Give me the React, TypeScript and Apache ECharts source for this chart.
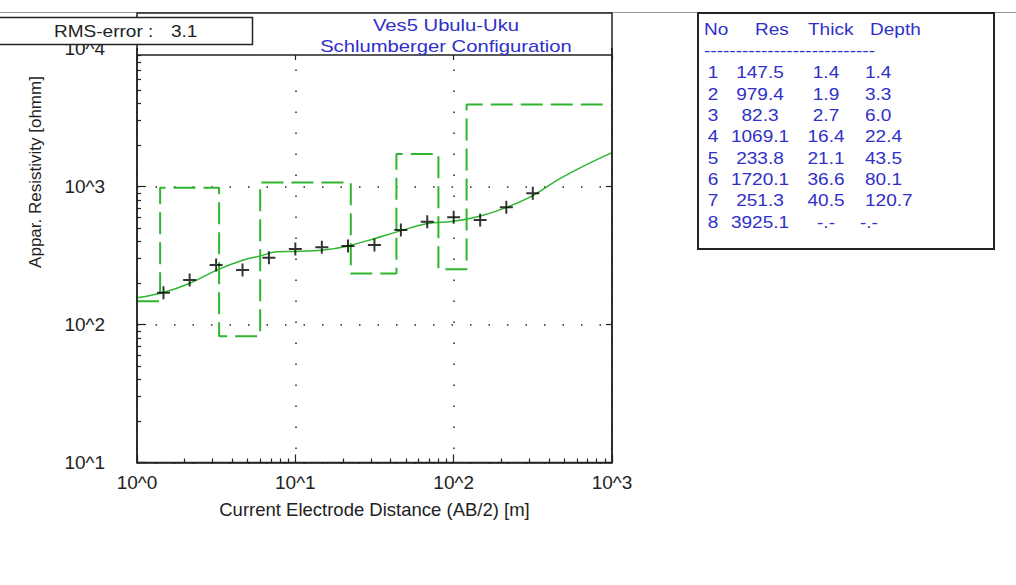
import React, { useEffect, useRef } from "react";
import * as echarts from "echarts";

// Observed field data (AB/2 in m, apparent resistivity in ohmm)
const abHalf = [1.47, 2.15, 3.16, 4.64, 6.81, 10, 14.7, 21.5, 31.6, 46.4, 68.1, 100, 147, 215, 316];
const apparentRes = [170, 210, 270, 248, 305, 352, 363, 370, 377, 484, 556, 598, 572, 707, 893];

// Calculated model response curve
const curveAb = [1, 1.45, 2.16, 3.19, 4.7, 5.93, 7.64, 10.1, 14.7, 21.6, 31.1, 46.6, 68.3, 100, 148, 216, 316, 460, 680, 1000];
const curveRes = [156, 170, 199, 248, 293, 313, 336, 338, 345, 371, 417, 479, 540, 560, 612, 706, 858, 1125, 1429, 1760];

// Layer model
const layerNo = [1, 2, 3, 4, 5, 6, 7, 8];
const layerRes = [147.5, 979.4, 82.3, 1069.1, 233.8, 1720.1, 251.3, 3925.1];
const layerThick: (number | null)[] = [1.4, 1.9, 2.7, 16.4, 21.1, 36.6, 40.5, null];
const layerDepth: (number | null)[] = [1.4, 3.3, 6.0, 22.4, 43.5, 80.1, 120.7, null];

const tableHeader = ["No", "Res", "Thick", "Depth"];
const xTickLabels = ["10^0", "10^1", "10^2", "10^3"];
const yTickLabels = ["10^0", "10^1", "10^2", "10^3", "10^4"];
const rmsError = 3.1;
const titleLines = ["Ves5 Ubulu-Uku", "Schlumberger Configuration"];
const xAxisName = "Current Electrode Distance (AB/2) [m]";
const yAxisName = "Appar. Resistivity [ohmm]";

const X_MIN = 1, X_MAX = 1000, Y_MIN = 10, Y_MAX = 10000;

const GREEN = "#2fb52f";
const BLUE = "#3030c8";
const DARK = "#222222";
const FONT = "'Liberation Sans', Arial, sans-serif";
const SX = 1.12;

const minorValues = (lo: number, hi: number) => {
  const out: number[] = [];
  for (let d = lo; d < hi; d *= 10) for (let k = 2; k <= 9; k++) out.push(d * k);
  return out;
};
const majorValues = (lo: number, hi: number) => {
  const out: number[] = [];
  for (let d = lo; d <= hi; d *= 10) out.push(d);
  return out;
};
const fmt = (v: number | null) => (v == null ? "-.-" : v.toFixed(1));

export default function App() {
  const ref = useRef<HTMLDivElement>(null);
  useEffect(() => {
    if (!ref.current) return;
    const chart = echarts.init(ref.current, undefined, { renderer: "svg" });

    const stepPts: number[][] = [];
    let prev = X_MIN;
    layerRes.forEach((r, i) => {
      const end = layerDepth[i] ?? X_MAX;
      stepPts.push([prev, r], [end, r]);
      prev = end;
    });

    const gridLeft = 137, gridRight = 612, gridTop = 48.5, gridBottom = 462.5;
    const tStyle = { fontFamily: FONT, fontSize: 17 };

    const tableEls: any[] = [];
    const hdrX = [704, 755, 808, 870];
    tableHeader.forEach((h, i) =>
      tableEls.push({ type: "text", x: hdrX[i], y: 29, scaleX: SX, z: 50,
        style: { ...tStyle, text: h, fill: BLUE, textAlign: "left", textVerticalAlign: "middle" } })
    );
    tableEls.push({ type: "text", x: 704, y: 50, scaleX: SX, z: 50,
      style: { ...tStyle, text: "---------------------------", fill: BLUE, textAlign: "left", textVerticalAlign: "middle" } });
    layerNo.forEach((n, i) => {
      const y = 72.7 + i * 21.33;
      const cells = [
        { t: String(n), x: 713, a: "center" },
        { t: layerRes[i].toFixed(1), x: 760, a: "center" },
        { t: fmt(layerThick[i]), x: 826, a: "center" },
        { t: fmt(layerDepth[i]), x: layerDepth[i] == null ? 860 : 865, a: "left" },
      ];
      cells.forEach((c) =>
        tableEls.push({ type: "text", x: c.x, y, scaleX: SX, z: 50,
          style: { ...tStyle, text: c.t, fill: BLUE, textAlign: c.a, textVerticalAlign: "middle" } })
      );
    });

    const option: any = {
      animation: false,
      backgroundColor: "#ffffff",
      grid: { left: gridLeft, right: 1016 - gridRight, top: gridTop, bottom: 585 - gridBottom, containLabel: false },
      xAxis: [
        {
          type: "log", logBase: 10, min: X_MIN, max: X_MAX, position: "bottom",
          axisLine: { show: true, lineStyle: { color: DARK, width: 1.5 } },
          axisTick: { show: true, inside: true, length: 8, lineStyle: { color: DARK, width: 1.2 } },
          axisLabel: { show: true, margin: 10, color: DARK, fontFamily: FONT, fontSize: 19,
            formatter: (v: number) => xTickLabels[Math.round(Math.log10(v))] },
          splitLine: { show: true, lineStyle: { color: "#222", width: 1.5, type: [1.5, 19.5] } },
          name: xAxisName, nameLocation: "middle", nameGap: 37,
          nameTextStyle: { color: DARK, fontFamily: FONT, fontSize: 18.5 },
        },
        {
          type: "log", logBase: 10, min: X_MIN, max: X_MAX, position: "bottom",
          axisLine: { show: false },
          axisTick: { show: true, inside: true, length: 4, customValues: minorValues(X_MIN, X_MAX), lineStyle: { color: DARK, width: 1.2 } },
          axisLabel: { show: false }, splitLine: { show: false },
        },
        {
          type: "log", logBase: 10, min: X_MIN, max: X_MAX, position: "top", offset: -6.5, z: 40,
          axisLine: { show: true, lineStyle: { color: DARK, width: 1.5 } },
          axisTick: { show: true, inside: true, length: 5, lineStyle: { color: DARK, width: 1.2 } },
          axisLabel: { show: false }, splitLine: { show: false },
        },
      ],
      yAxis: [
        {
          type: "log", logBase: 10, min: Y_MIN, max: Y_MAX, position: "left",
          axisLine: { show: true, lineStyle: { color: DARK, width: 1.5 } },
          axisTick: { show: true, inside: true, length: 9, lineStyle: { color: DARK, width: 1.2 } },
          axisLabel: { show: true, margin: 32, color: DARK, fontFamily: FONT, fontSize: 19,
            formatter: (v: number) => yTickLabels[Math.round(Math.log10(v))] },
          splitLine: { show: true, lineStyle: { color: "#222", width: 1.5, type: [1.5, 17] } },
        },
        {
          type: "log", logBase: 10, min: Y_MIN, max: Y_MAX, position: "left",
          axisLine: { show: false },
          axisTick: { show: true, inside: true, length: 4, customValues: minorValues(Y_MIN, Y_MAX), lineStyle: { color: DARK, width: 1.2 } },
          axisLabel: { show: false }, splitLine: { show: false },
        },
        {
          type: "log", logBase: 10, min: Y_MIN, max: Y_MAX, position: "right",
          axisLine: { show: true, lineStyle: { color: DARK, width: 1.5 } },
          axisTick: { show: true, inside: true, length: 6, customValues: majorValues(Y_MIN, Y_MAX), lineStyle: { color: DARK, width: 1.2 } },
          axisLabel: { show: false }, splitLine: { show: false },
        },
      ],
      series: [
        {
          name: "Model", type: "line", data: stepPts, symbol: "none", z: 3,
          lineStyle: { color: GREEN, width: 2, type: [22, 8] },
        },
        {
          name: "Calculated", type: "line", smooth: 0.3, symbol: "none", z: 4,
          data: curveAb.map((x, i) => [x, curveRes[i]]),
          lineStyle: { color: GREEN, width: 1.5 },
        },
        {
          name: "Observed", type: "scatter", z: 5,
          symbol: "path://M4.25,0H5.75V4.25H10V5.75H5.75V10H4.25V5.75H0V4.25H4.25Z",
          symbolSize: 13,
          itemStyle: { color: "#000" },
          data: abHalf.map((x, i) => [x, apparentRes[i]]),
        },
      ],
      graphic: [
        { type: "line", z: 1, shape: { x1: 0, y1: 12.5, x2: 1016, y2: 12.5 }, style: { stroke: "#999", lineWidth: 1 } },
        { type: "rect", z: 35, shape: { x: gridLeft + 1, y: 13.5, width: gridRight - gridLeft - 2, height: 41 }, style: { fill: "#ffffff" } },
        { type: "rect", z: 36, shape: { x: gridLeft, y: 13, width: gridRight - gridLeft, height: gridBottom - 13 }, style: { fill: "none", stroke: DARK, lineWidth: 1.5 } },
        { type: "rect", z: 36, shape: { x: 698, y: 13, width: 296, height: 236 }, style: { fill: "#ffffff", stroke: DARK, lineWidth: 2 } },
        { type: "rect", z: 45, shape: { x: -2, y: 17.5, width: 254.5, height: 27 }, style: { fill: "#ffffff", stroke: DARK, lineWidth: 1.5 } },
        { type: "text", z: 46, x: 54, y: 31.5, scaleX: SX, style: { ...tStyle, text: "RMS-error :", fill: DARK, textAlign: "left", textVerticalAlign: "middle" } },
        { type: "text", z: 46, x: 171, y: 31.5, scaleX: SX, style: { ...tStyle, text: rmsError.toFixed(1), fill: DARK, textAlign: "left", textVerticalAlign: "middle" } },
        { type: "text", z: 46, x: 446, y: 25, scaleX: 1.19, style: { ...tStyle, text: titleLines[0], fill: BLUE, textAlign: "center", textVerticalAlign: "middle" } },
        { type: "text", z: 46, x: 446, y: 46, scaleX: 1.19, style: { ...tStyle, text: titleLines[1], fill: BLUE, textAlign: "center", textVerticalAlign: "middle" } },
        { type: "text", z: 46, x: 35, y: 172, rotation: Math.PI / 2, style: { ...tStyle, text: yAxisName, fill: DARK, textAlign: "center", textVerticalAlign: "middle" } },
        ...tableEls,
      ],
    };
    chart.setOption(option);
    return () => chart.dispose();
  }, []);

  return (
    <div
      ref={ref}
      style={{ position: "absolute", left: 0, top: 0, width: 1016, height: 585, background: "#fff" }}
    />
  );
}
